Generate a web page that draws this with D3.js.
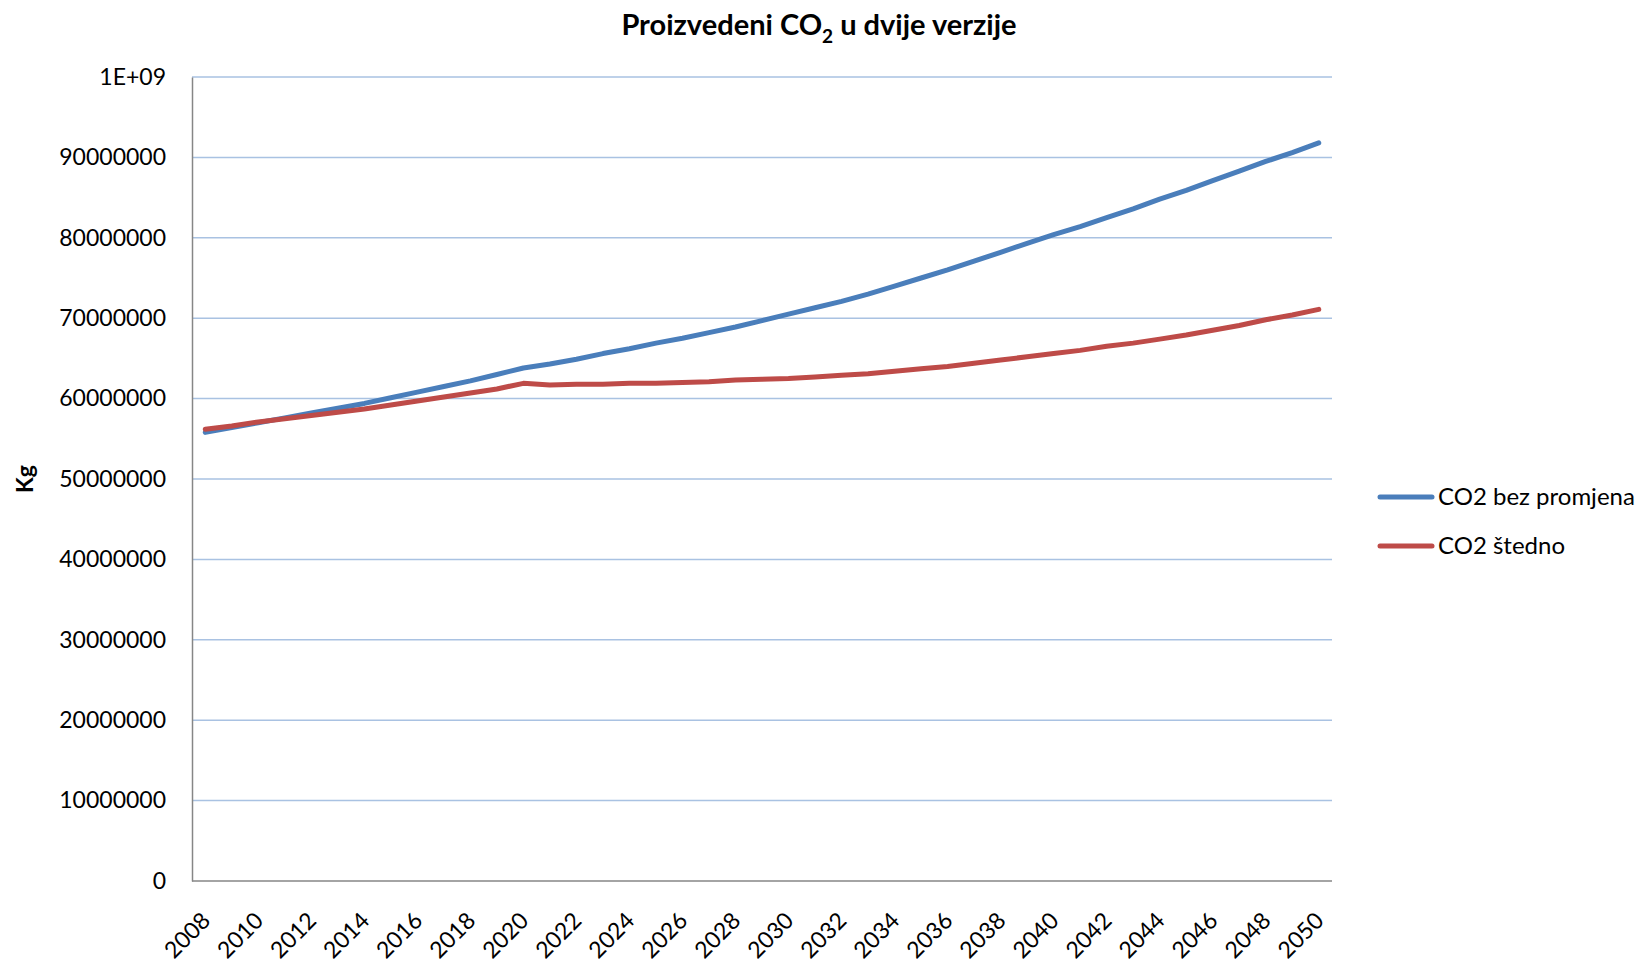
<!DOCTYPE html>
<html>
<head>
<meta charset="utf-8">
<script src="https://cdn.jsdelivr.net/npm/d3@7"></script>
<style>
  html, body { margin: 0; padding: 0; background: #fff; }
  svg { display: block; font-family: 'Lato', 'Open Sans', sans-serif; }
</style>
</head>
<body>
<div id="chart"></div>
<script>
// years on the category axis
var years = d3.range(2008, 2051);

// CO2 bez promjena (kg)
var bezPromjena = [
  55.8e6, 56.4e6, 57.0e6, 57.6e6, 58.2e6, 58.8e6, 59.4e6, 60.1e6, 60.8e6, 61.5e6,
  62.2e6, 63.0e6, 63.8e6, 64.3e6, 64.9e6, 65.6e6, 66.2e6, 66.9e6, 67.5e6, 68.2e6,
  68.9e6, 69.7e6, 70.5e6, 71.3e6, 72.1e6, 73.0e6, 74.0e6, 75.0e6, 76.0e6, 77.1e6,
  78.2e6, 79.3e6, 80.4e6, 81.4e6, 82.5e6, 83.6e6, 84.8e6, 85.9e6, 87.1e6, 88.3e6,
  89.5e6, 90.6e6, 91.8e6
];

// CO2 stedno (kg)
var stedno = [
  56.2e6, 56.6e6, 57.1e6, 57.5e6, 57.9e6, 58.3e6, 58.7e6, 59.2e6, 59.7e6, 60.2e6,
  60.7e6, 61.2e6, 61.9e6, 61.7e6, 61.8e6, 61.8e6, 61.9e6, 61.9e6, 62.0e6, 62.1e6,
  62.3e6, 62.4e6, 62.5e6, 62.7e6, 62.9e6, 63.1e6, 63.4e6, 63.7e6, 64.0e6, 64.4e6,
  64.8e6, 65.2e6, 65.6e6, 66.0e6, 66.5e6, 66.9e6, 67.4e6, 67.9e6, 68.5e6, 69.1e6,
  69.8e6, 70.4e6, 71.1e6
];

var seriesNames = ["CO2 bez promjena", "CO2 \u0161tedno"];
var seriesColors = ["#4A7EBB", "#BE4B48"];

// y ticks as Excel printed them
var yTicks = d3.range(0, 100e6 + 1, 10e6);
var yTickLabels = ["0", "10000000", "20000000", "30000000", "40000000", "50000000",
                   "60000000", "70000000", "80000000", "90000000", "1E+09"];

// only every second year gets a label
var xTickYears = years.filter(function(d){ return (d - 2008) % 2 == 0; });

var WIDTH = 1644, HEIGHT = 962;
var plot = {left: 192, right: 1332, top: 77, bottom: 881};

var svg = d3.select("#chart").append("svg")
  .attr("width", WIDTH)
  .attr("height", HEIGHT);

var x = d3.scalePoint()
  .domain(years)
  .range([plot.left, plot.right])
  .padding(0.5);

var y = d3.scaleLinear()
  .domain([0, 100e6])
  .range([plot.bottom, plot.top]);

// horizontal gridlines
svg.append("g").attr("class", "grid")
  .selectAll("line")
  .data(yTicks.slice(1))
  .join("line")
    .attr("x1", plot.left)
    .attr("x2", plot.right)
    .attr("y1", d => y(d))
    .attr("y2", d => y(d))
    .attr("stroke", "#A9C2E2")
    .attr("stroke-width", 1.5);

// y axis: no tick marks, just labels and a grey line
var yAxis = svg.append("g")
  .attr("transform", `translate(${plot.left},0)`)
  .call(d3.axisLeft(y)
    .tickValues(yTicks)
    .tickSize(0)
    .tickPadding(26)
    .tickFormat((d, i) => yTickLabels[i]));
yAxis.select(".domain").attr("stroke", "#868686").attr("stroke-width", 1.5);
yAxis.selectAll("text")
  .attr("font-size", 23)
  .attr("font-family", "Lato, 'Open Sans', sans-serif")
  .attr("fill", "#000");

// x axis with rotated year labels
var xAxis = svg.append("g")
  .attr("transform", `translate(0,${plot.bottom})`)
  .call(d3.axisBottom(x).tickValues(xTickYears).tickSize(0).tickFormat(d => d));
xAxis.select(".domain").attr("stroke", "#868686").attr("stroke-width", 1.5)
  .attr("d", `M${plot.left},0H${plot.right}`);
xAxis.selectAll("text")
  .attr("font-size", 23)
  .attr("font-family", "Lato, 'Open Sans', sans-serif")
  .attr("fill", "#000")
  .attr("text-anchor", "end")
  .attr("y", 0)
  .attr("dy", 0)
  .attr("transform", "translate(6,41) rotate(-45)");

// lines
var line = d3.line()
  .x((d, i) => x(years[i]))
  .y(d => y(d));

svg.append("g").attr("class", "lines")
  .selectAll("path")
  .data([bezPromjena, stedno])
  .join("path")
    .attr("d", line)
    .attr("fill", "none")
    .attr("stroke", (d, i) => seriesColors[i])
    .attr("stroke-width", 5)
    .attr("stroke-linejoin", "round")
    .attr("stroke-linecap", "round");

// title with subscript 2
var title = svg.append("text")
  .attr("x", 819)
  .attr("y", 35)
  .attr("text-anchor", "middle")
  .attr("font-size", 29)
  .attr("font-weight", "bold")
  .attr("fill", "#000");
title.append("tspan").text("Proizvedeni CO");
title.append("tspan").attr("font-size", 19).attr("dy", 8).text("2");
title.append("tspan").attr("dy", -8).text(" u dvije verzije");

// y axis title
svg.append("text")
  .attr("transform", `translate(33,${(plot.top + plot.bottom) / 2}) rotate(-90)`)
  .attr("text-anchor", "middle")
  .attr("font-size", 23)
  .attr("font-weight", "bold")
  .attr("fill", "#000")
  .text("Kg");

// legend
var legend = svg.append("g").attr("class", "legend")
  .selectAll("g")
  .data(seriesNames)
  .join("g")
    .attr("transform", (d, i) => `translate(1380,${497 + i * 49})`);

legend.append("line")
  .attr("x1", 0).attr("x2", 52)
  .attr("stroke", (d, i) => seriesColors[i])
  .attr("stroke-width", 5)
  .attr("stroke-linecap", "round");

legend.append("text")
  .attr("x", 58)
  .attr("y", 8)
  .attr("font-size", 24)
  .attr("fill", "#000")
  .text(d => d);
</script>
</body>
</html>
